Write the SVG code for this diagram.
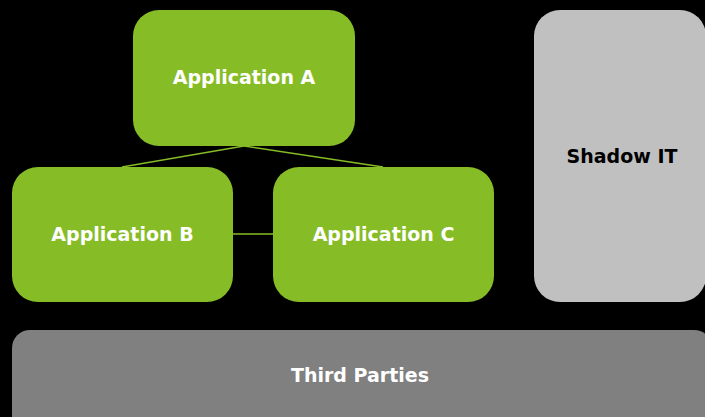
<svg xmlns="http://www.w3.org/2000/svg" width="705" height="417" viewBox="0 0 705 417">
  <style>
    .app { fill: #86bc25; }
    .lbl { font-family: "DejaVu Sans", "Liberation Sans", sans-serif; font-weight: bold; font-size: 19px; text-anchor: middle; dominant-baseline: central; }
    .light { fill: #ffffff; }
    .dark { fill: #000000; }
    .link { stroke: #86bc25; stroke-width: 1.5; fill: none; }
  </style>
  <rect width="705" height="417" fill="#000000"/>

  <g id="connectors">
    <line class="link" x1="244" y1="146" x2="122" y2="167"/>
    <line class="link" x1="244" y1="146" x2="383" y2="167"/>
    <line class="link" x1="233" y1="234" x2="273" y2="234"/>
  </g>

  <g id="app-a">
    <rect class="app" x="133" y="10" width="222" height="136" rx="26"/>
    <text class="lbl light" x="244" y="77">Application A</text>
  </g>
  <g id="app-b">
    <rect class="app" x="12" y="167" width="221" height="135" rx="26"/>
    <text class="lbl light" x="122.5" y="234">Application B</text>
  </g>
  <g id="app-c">
    <rect class="app" x="273" y="167" width="221" height="135" rx="26"/>
    <text class="lbl light" x="383.5" y="234">Application C</text>
  </g>
  <g id="shadow-it">
    <rect x="534" y="10" width="172" height="292" rx="26" fill="#c0c0c0"/>
    <text class="lbl dark" x="622" y="156">Shadow IT</text>
  </g>
  <g id="third-parties">
    <rect x="12" y="330" width="700" height="110" rx="18" fill="#808080"/>
    <text class="lbl light" x="360" y="375">Third Parties</text>
  </g>
</svg>
